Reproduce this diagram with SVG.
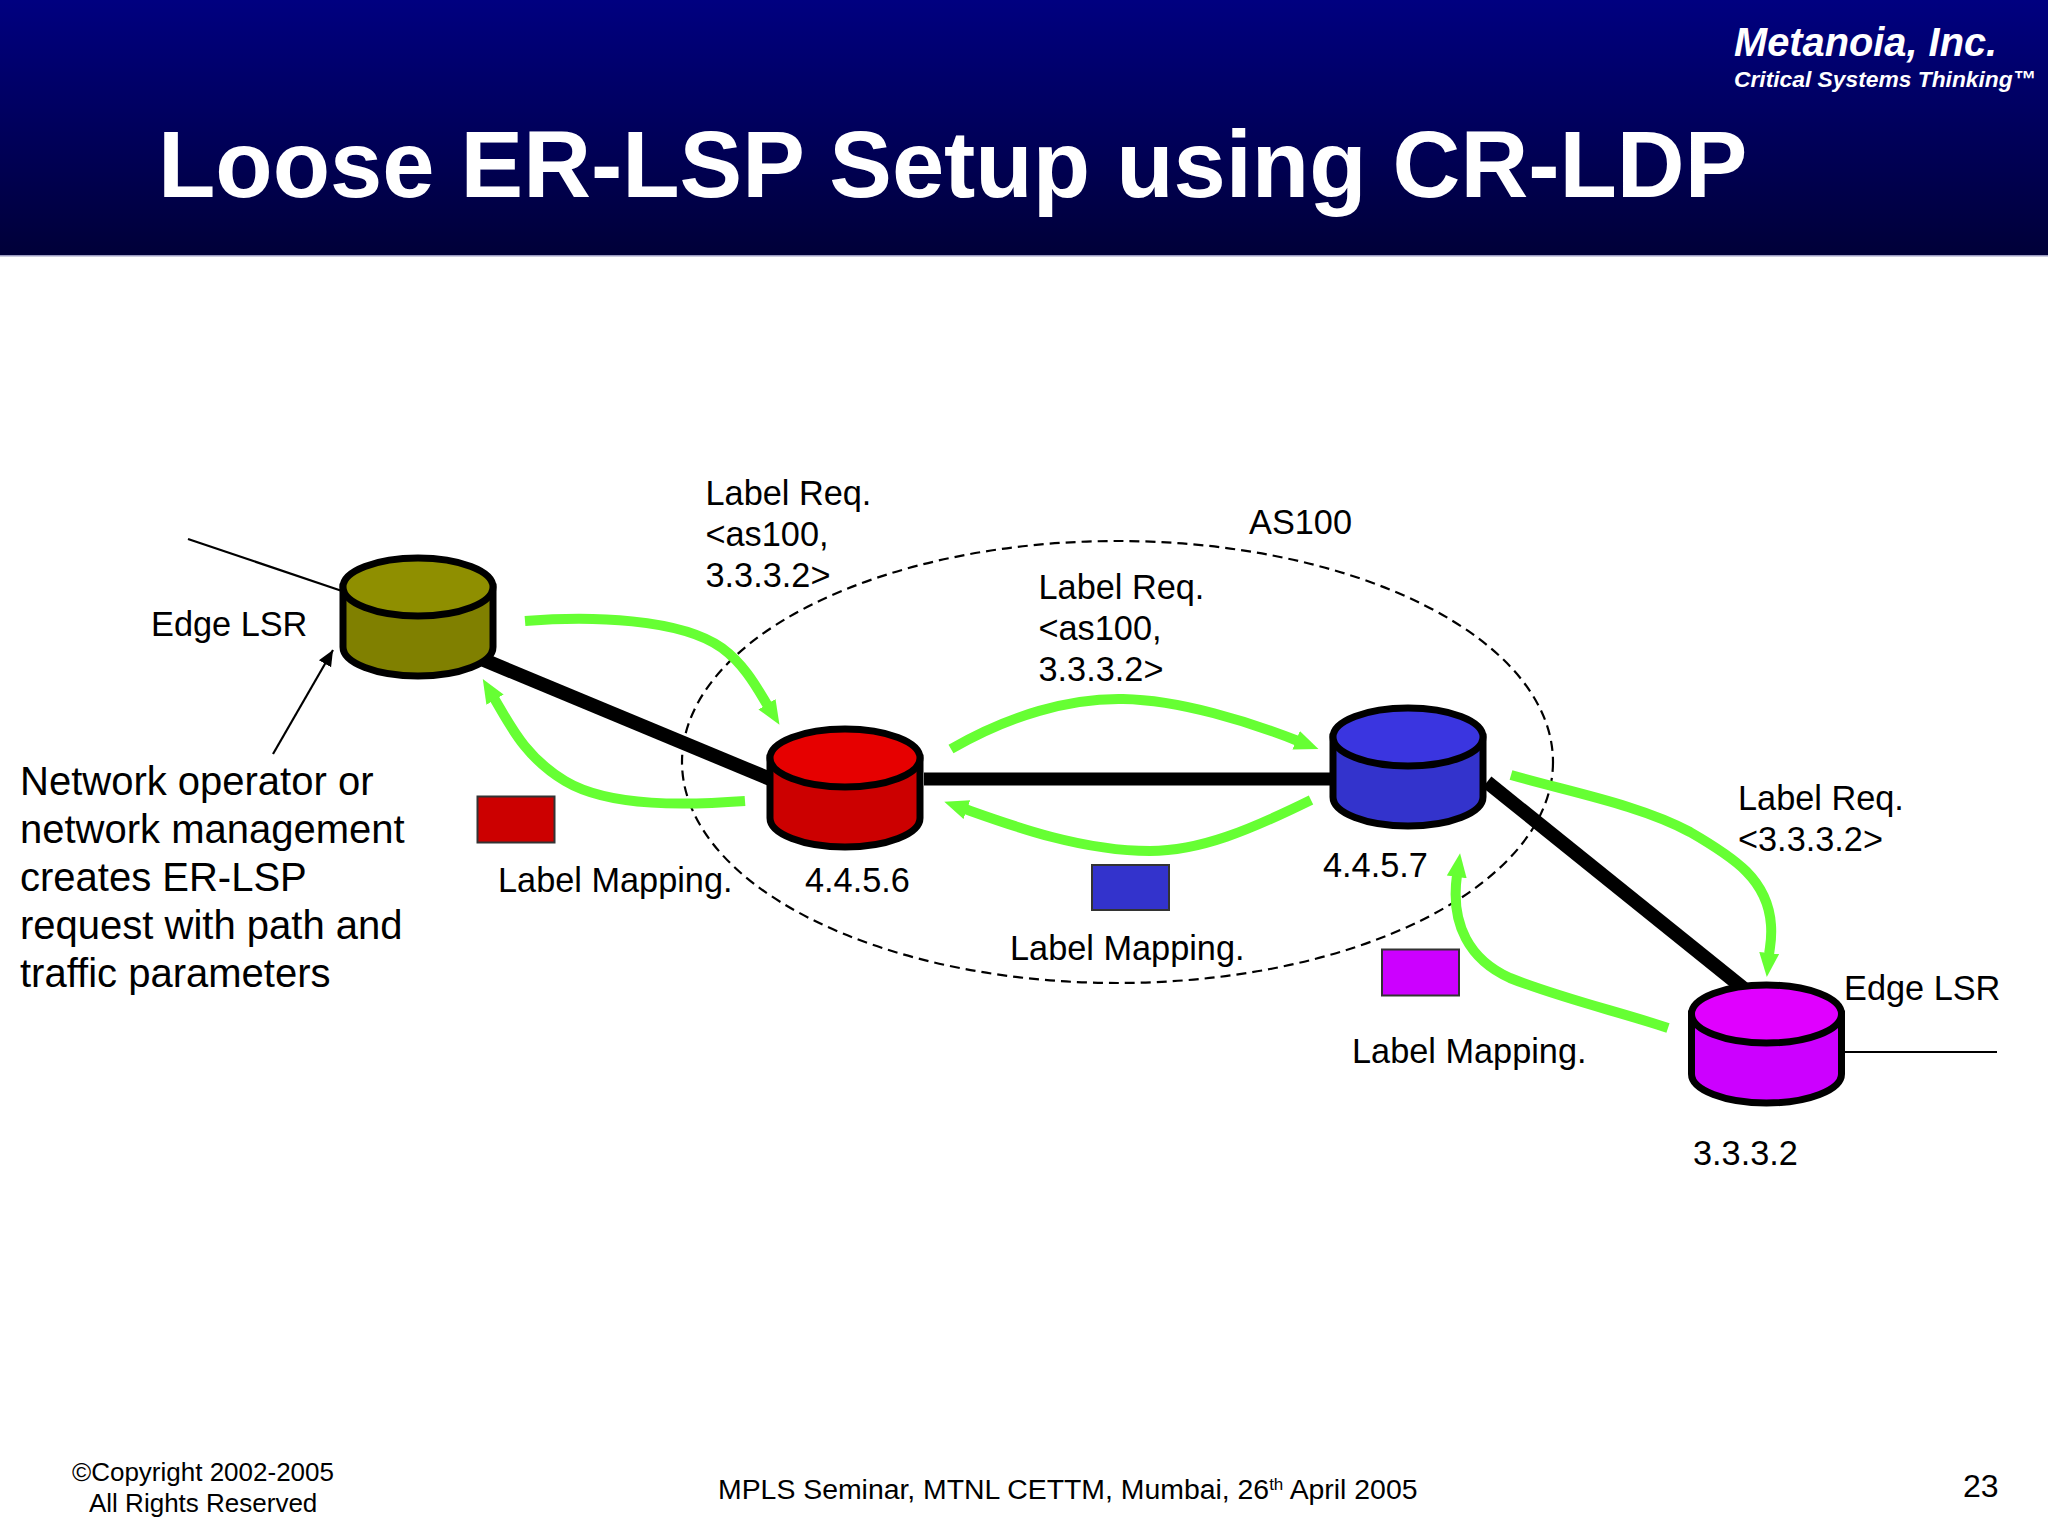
<svg xmlns="http://www.w3.org/2000/svg" width="2048" height="1536" viewBox="0 0 2048 1536">
<style>
text{font-family:"Liberation Sans",Arial,sans-serif;fill:#000}
.l{font-size:34.3px}
.f{font-size:26px}
.m{font-size:28.4px}
.op{font-size:40px}
.w{fill:#fff;font-weight:bold}
.g{fill:none;stroke:#66ff33;stroke-width:10;marker-end:url(#ga)}
.link{stroke:#000;stroke-width:14;fill:none}
.thin{stroke:#000;stroke-width:2.2;fill:none}
.cy{stroke:#000;stroke-width:7}
.sq{stroke:#333;stroke-width:2}
</style>
<defs>
<linearGradient id="hd" x1="0" y1="0" x2="0" y2="1"><stop offset="0" stop-color="#000080"/><stop offset="1" stop-color="#000038"/></linearGradient>
<marker id="ga" markerUnits="userSpaceOnUse" markerWidth="26" markerHeight="24" refX="2" refY="12" orient="auto"><path d="M0 2L24 12L0 22Z" fill="#66ff33"/></marker>
<marker id="ka" markerUnits="userSpaceOnUse" markerWidth="18" markerHeight="16" refX="16" refY="8" orient="auto"><path d="M0 1L16 8L0 15Z" fill="#000"/></marker>
<path id="cyl" d="M-75 -30V30A75 29 0 0 0 75 30V-30Z"/>
</defs>
<rect width="2048" height="1536" fill="#fff"/>
<g id="header">
<rect width="2048" height="256" fill="url(#hd)"/>
<rect y="255" width="2048" height="1.5" fill="#9a9ac0"/>
<text x="158" y="197" class="w" font-size="93.9">Loose ER-LSP Setup using CR-LDP</text>
<text x="1734" y="56" class="w" font-size="39.8" font-style="italic">Metanoia, Inc.</text>
<text x="1734" y="87" class="w" font-size="22.8" font-style="italic">Critical Systems Thinking™</text>
</g>
<ellipse id="as100" cx="1117.5" cy="762" rx="435.5" ry="221" fill="none" stroke="#000" stroke-width="2.2" stroke-dasharray="10 6"/>
<g id="connectors">
<path class="link" d="M484 660L775 781"/>
<path class="link" stroke-width="13" d="M924 779H1335" style="stroke-width:13"/>
<path class="link" d="M1487 782L1748 992"/>
<path class="thin" d="M188 539L342 591"/>
<path class="thin" d="M1845 1052H1997"/>
<path class="thin" marker-end="url(#ka)" d="M273 754L333 650"/>
<path class="g" d="M525 621C590 616 680 618 722 648C745 665 757 688 768 706"/>
<path class="g" d="M745 801C690 805 610 808 565 781C525 757 510 725 494 698"/>
<path class="g" d="M951 749C1010 715 1070 698 1123 699C1180 700 1250 722 1298 741"/>
<path class="g" d="M1311 800C1250 830 1200 851 1150 851C1080 851 1010 825 965 809"/>
<path class="g" d="M1511 775C1570 792 1640 805 1690 832C1735 858 1768 880 1771 925C1772 940 1770 945 1769 955"/>
<path class="g" d="M1668 1028C1620 1012 1560 998 1510 978C1470 960 1450 925 1457 875"/>
</g>
<g id="lsr-edge-left" class="cy">
<use href="#cyl" x="418" y="617" fill="#808000"/>
<ellipse cx="418" cy="587" rx="75" ry="29" fill="#8f8f00"/>
</g>
<g id="lsr-4456" class="cy">
<use href="#cyl" x="845" y="788" fill="#cc0000"/>
<ellipse cx="845" cy="758" rx="75" ry="29" fill="#e60000"/>
</g>
<g id="lsr-4457" class="cy">
<use href="#cyl" x="1408" y="767" fill="#3333cc"/>
<ellipse cx="1408" cy="737" rx="75" ry="29" fill="#3a35e0"/>
</g>
<g id="lsr-3332" class="cy">
<use href="#cyl" x="1766.5" y="1044" fill="#cc00ff"/>
<ellipse cx="1766.5" cy="1014" rx="75" ry="29" fill="#e000ff"/>
</g>
<g id="label-squares">
<rect class="sq" x="477.5" y="796.5" width="77" height="46" fill="#cc0000"/>
<rect class="sq" x="1092" y="865" width="77" height="45" fill="#3333cc"/>
<rect class="sq" x="1382" y="949.5" width="77" height="46" fill="#cc00ff"/>
</g>
<g id="labels">
<text class="l" x="705.5" y="505">Label Req.</text>
<text class="l" x="705.5" y="546">&lt;as100,</text>
<text class="l" x="705.5" y="587">3.3.3.2&gt;</text>
<text class="l" x="1038.5" y="599">Label Req.</text>
<text class="l" x="1038.5" y="640">&lt;as100,</text>
<text class="l" x="1038.5" y="681">3.3.3.2&gt;</text>
<text class="l" x="1249" y="534">AS100</text>
<text class="l" x="151" y="636">Edge LSR</text>
<text class="op" x="20" y="795">Network operator or</text>
<text class="op" x="20" y="843">network management</text>
<text class="op" x="20" y="891">creates ER-LSP</text>
<text class="op" x="20" y="939">request with path and</text>
<text class="op" x="20" y="987">traffic parameters</text>
<text class="l" x="498" y="892">Label Mapping.</text>
<text class="l" x="805" y="892">4.4.5.6</text>
<text class="l" x="1323" y="877">4.4.5.7</text>
<text class="l" x="1010" y="960">Label Mapping.</text>
<text class="l" x="1352" y="1063">Label Mapping.</text>
<text class="l" x="1738" y="810">Label Req.</text>
<text class="l" x="1738" y="851">&lt;3.3.3.2&gt;</text>
<text class="l" x="1844" y="1000">Edge LSR</text>
<text class="l" x="1693" y="1165">3.3.3.2</text>
</g>
<g id="footer">
<text class="f" x="72" y="1481">©Copyright 2002-2005</text>
<text class="f" x="89" y="1512">All Rights Reserved</text>
<text class="m" x="718" y="1499">MPLS Seminar, MTNL CETTM, Mumbai, 26<tspan font-size="17" dy="-9">th</tspan><tspan dy="9"> April 2005</tspan></text>
<text x="1963" y="1497" font-size="32">23</text>
</g>
</svg>
